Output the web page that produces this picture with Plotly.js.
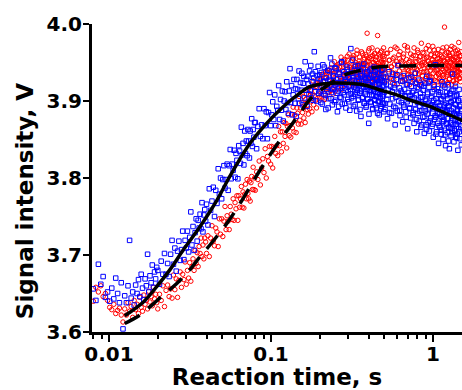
<!DOCTYPE html>
<html>
<head>
<meta charset="utf-8">
<script src="https://cdn.plot.ly/plotly-3.0.1.min.js"></script>
<style>html,body{margin:0;padding:0;background:#fff;}#chart{width:462px;height:390px;}</style>
</head>
<body>
<div id="chart"></div>
<script>
// Reaction time samples (s), shared by both measured series
const reactionTime = [
0.0080,0.0083,0.0086,0.0089,0.0092,0.0095,0.0098,0.0101,0.0104,0.0107,0.0110,0.0113,0.0116,0.0119,
0.0122,0.0125,0.0128,0.0131,0.0134,0.0137,0.0140,0.0143,0.0146,0.0149,0.0152,0.0155,0.0158,0.0161,0.0164,0.0167,0.0170,0.0173,0.0176,0.0179,0.0182,0.0185,0.0188,0.0191,0.0194,0.0197,
0.0200,0.0205,0.0210,0.0215,0.0220,0.0225,0.0230,0.0235,0.0240,0.0245,0.0250,0.0255,0.0260,0.0265,0.0270,0.0275,0.0280,0.0285,0.0290,0.0295,0.0300,0.0305,0.0310,0.0315,0.0320,0.0325,0.0330,0.0335,0.0340,0.0345,0.0350,0.0355,0.0360,0.0365,0.0370,0.0375,0.0380,0.0385,0.0390,0.0395,
0.0400,0.0408,0.0416,0.0424,0.0432,0.0440,0.0448,0.0456,0.0464,0.0472,0.0480,0.0488,0.0496,0.0504,0.0512,0.0520,0.0528,0.0536,0.0544,0.0552,0.0560,0.0568,0.0576,0.0584,0.0592,0.0600,0.0608,0.0616,0.0624,0.0632,0.0640,0.0648,0.0656,0.0664,0.0672,0.0680,0.0688,0.0696,0.0704,0.0712,0.0720,0.0728,0.0736,0.0744,0.0752,0.0760,0.0768,0.0776,0.0784,0.0792,
0.0800,0.0815,0.0830,0.0845,0.0860,0.0875,0.0890,0.0905,0.0920,0.0935,0.0950,0.0965,0.0980,0.0995,0.1010,0.1025,0.1040,0.1055,0.1070,0.1085,0.1100,0.1115,0.1130,0.1145,0.1160,0.1175,0.1190,0.1205,0.1220,0.1235,0.1250,0.1265,0.1280,0.1295,0.1310,0.1325,0.1340,0.1355,0.1370,0.1385,0.1400,0.1415,0.1430,0.1445,0.1460,0.1475,0.1490,0.1505,0.1520,0.1535,0.1550,0.1565,0.1580,0.1595,0.1610,0.1625,0.1640,0.1655,0.1670,0.1685,0.1700,0.1715,0.1730,0.1745,0.1760,0.1775,0.1790,0.1805,0.1820,0.1835,0.1850,0.1865,0.1880,0.1895,0.1910,0.1925,0.1940,0.1955,0.1970,0.1985,
0.200,0.203,0.206,0.209,0.212,0.215,0.218,0.221,0.224,0.227,0.230,0.233,0.236,0.239,0.242,0.245,0.248,0.251,0.254,0.257,0.260,0.263,0.266,0.269,0.272,0.275,0.278,0.281,0.284,0.287,0.290,0.293,0.296,0.299,0.302,0.305,0.308,0.311,0.314,0.317,0.320,0.323,0.326,0.329,0.332,0.335,0.338,0.341,0.344,0.347,0.350,0.353,0.356,0.359,0.362,0.365,0.368,0.371,0.374,0.377,0.380,0.383,0.386,0.389,0.392,0.395,0.398,0.401,0.404,0.407,0.410,0.413,0.416,0.419,0.422,0.425,0.428,0.431,0.434,0.437,0.440,0.443,0.446,0.449,0.452,0.455,0.458,0.461,0.464,0.467,0.470,0.473,0.476,0.479,0.482,0.485,0.488,0.491,0.494,0.497,
0.500,0.506,0.512,0.518,0.524,0.530,0.536,0.542,0.548,0.554,0.560,0.566,0.572,0.578,0.584,0.590,0.596,0.602,0.608,0.614,0.620,0.626,0.632,0.638,0.644,0.650,0.656,0.662,0.668,0.674,0.680,0.686,0.692,0.698,0.704,0.710,0.716,0.722,0.728,0.734,0.740,0.746,0.752,0.758,0.764,0.770,0.776,0.782,0.788,0.794,0.800,0.806,0.812,0.818,0.824,0.830,0.836,0.842,0.848,0.854,0.860,0.866,0.872,0.878,0.884,0.890,0.896,0.902,0.908,0.914,0.920,0.926,0.932,0.938,0.944,0.950,0.956,0.962,0.968,0.974,0.980,0.986,0.992,0.998,1.004,1.010,1.016,1.022,1.028,1.034,1.040,1.046,1.052,1.058,1.064,1.070,1.076,1.082,1.088,1.094,1.100,1.106,1.112,1.118,1.124,1.130,1.136,1.142,1.148,1.154,1.160,1.166,1.172,1.178,1.184,1.190,1.196,1.202,1.208,1.214,1.220,1.226,1.232,1.238,1.244,1.250,1.256,1.262,1.268,1.274,1.280,1.286,1.292,1.298,1.304,1.310,1.316,1.322,1.328,1.334,1.340,1.346,1.352,1.358,1.364,1.370,1.376,1.382,1.388,1.394,1.400,1.406,1.412,1.418,1.424,1.430,1.436,1.442,1.448,1.454,1.460,1.466,1.472,1.478,1.484,1.490,1.496,
0.2015,0.2045,0.2075,0.2105,0.2135,0.2165,0.2195,0.2225,0.2255,0.2285,0.2315,0.2345,0.2375,0.2405,0.2435,0.2465,0.2495,0.2525,0.2555,0.2585,0.2615,0.2645,0.2675,0.2705,0.2735,0.2765,0.2795,0.2825,0.2855,0.2885,0.2915,0.2945,0.2975,0.3005,0.3035,0.3065,0.3095,0.3125,0.3155,0.3185,0.3215,0.3245,0.3275,0.3305,0.3335,0.3365,0.3395,0.3425,0.3455,0.3485,0.3515,0.3545,0.3575,0.3605,0.3635,0.3665,0.3695,0.3725,0.3755,0.3785,0.3815,0.3845,0.3875,0.3905,0.3935,0.3965,0.3995,0.4025,0.4055,0.4085,0.4115,0.4145,0.4175,0.4205,0.4235,0.4265,0.4295,0.4325,0.4355,0.4385,0.4415,0.4445,0.4475,0.4505,0.4535,0.4565,0.4595,0.4625,0.4655,0.4685,0.4715,0.4745,0.4775,0.4805,0.4835,0.4865,0.4895,0.4925,0.4955,0.4985,
0.503,0.515,0.527,0.539,0.551,0.563,0.575,0.587,0.599,0.611,0.623,0.635,0.647,0.659,0.671,0.683,0.695,0.707,0.719,0.731,0.743,0.755,0.767,0.779,0.791,0.803,0.815,0.827,0.839,0.851,0.863,0.875,0.887,0.899,0.911,0.923,0.935,0.947,0.959,0.971,0.983,0.995,1.007,1.019,1.031,1.043,1.055,1.067,1.079,1.091,1.103,1.115,1.127,1.139,1.151,1.163,1.175,1.187,1.199,1.211,1.223,1.235,1.247,1.259,1.271,1.283,1.295,1.307,1.319,1.331,1.343,1.355,1.367,1.379,1.391,1.403,1.415,1.427,1.439,1.451,1.463,1.475,1.487,1.499
];

// Blue series (open squares), signal in V
const blueSignal = [
3.656,3.641,3.688,3.662,3.672,3.645,3.652,3.640,3.657,3.643,3.670,3.650,3.638,3.664,
3.604,3.647,3.638,3.660,3.719,3.644,3.652,3.635,3.661,3.650,3.668,3.646,3.675,3.657,3.642,3.669,3.660,3.701,3.652,3.673,3.664,3.687,3.658,3.678,3.669,3.684,
3.680,3.662,3.692,3.675,3.702,3.675,3.689,3.672,3.701,3.719,3.688,3.709,3.679,3.705,3.718,3.693,3.707,3.731,3.694,3.719,3.709,3.731,3.704,3.723,3.756,3.713,3.737,3.706,3.729,3.747,3.718,3.745,3.735,3.753,3.734,3.768,3.730,3.752,3.759,3.744,
3.766,3.739,3.786,3.758,3.770,3.788,3.750,3.784,3.767,3.812,3.779,3.800,3.773,3.798,3.816,3.787,3.798,3.818,3.784,3.816,3.837,3.799,3.818,3.810,3.836,3.801,3.832,3.823,3.799,3.842,3.835,3.819,3.866,3.830,3.845,3.817,3.861,3.832,3.848,3.829,3.863,3.848,3.826,3.861,3.845,3.877,3.841,3.863,3.853,3.872,
3.872,3.838,3.867,3.890,3.854,3.869,3.851,3.890,3.868,3.886,3.851,3.885,3.911,3.868,3.882,3.899,3.876,3.908,3.868,3.893,3.888,3.920,3.876,3.902,3.888,3.913,3.874,3.900,3.912,3.889,3.925,3.898,3.884,3.913,3.942,3.898,3.920,3.882,3.908,3.928,3.897,3.916,3.880,3.928,3.915,3.903,3.939,3.897,3.924,3.914,3.936,3.895,3.923,3.932,3.904,3.951,3.914,3.928,3.893,3.932,3.922,3.909,3.939,3.914,3.946,3.904,3.925,3.935,3.901,3.930,3.964,3.912,3.938,3.918,3.900,3.933,3.924,3.945,3.910,3.929,
3.934,3.898,3.921,3.947,3.909,3.926,3.889,3.915,3.940,3.903,3.928,3.956,3.911,3.895,3.932,3.917,3.943,3.901,3.924,3.886,3.913,3.937,3.905,3.929,3.950,3.896,3.919,3.934,3.908,3.925,3.891,3.922,3.941,3.912,3.899,3.930,3.915,3.968,3.904,3.927,3.936,3.893,3.918,3.909,3.945,3.921,3.887,3.914,3.931,3.902,3.925,3.910,3.939,3.880,3.916,3.933,3.905,3.922,3.948,3.897,3.912,3.929,3.892,3.919,3.936,3.903,3.924,3.871,3.914,3.931,3.899,3.918,3.942,3.908,3.925,3.889,3.913,3.934,3.902,3.921,3.938,3.895,3.916,3.906,3.929,3.884,3.911,3.935,3.900,3.922,3.909,3.927,3.890,3.914,3.940,3.898,3.919,3.906,3.932,3.886,
3.924,3.889,3.931,3.902,3.877,3.915,3.938,3.896,3.919,3.884,3.912,3.935,3.893,3.921,3.869,3.905,3.928,3.887,3.946,3.900,3.917,3.881,3.926,3.898,3.910,3.873,3.933,3.892,3.915,3.906,3.886,3.922,3.899,3.864,3.911,3.930,3.891,3.907,3.878,3.919,3.903,3.925,3.882,3.913,3.871,3.896,3.936,3.889,3.908,3.860,3.918,3.884,3.901,3.927,3.874,3.893,3.910,3.866,3.921,3.888,3.905,3.879,3.914,3.896,3.858,3.923,3.887,3.900,3.869,3.932,3.883,3.909,3.872,3.897,3.918,3.861,3.891,3.926,3.878,3.904,3.895,3.867,3.912,3.884,3.853,3.901,3.921,3.876,3.893,3.947,3.879,3.903,3.860,3.890,3.916,3.871,3.898,3.845,3.908,3.883,3.894,3.866,3.911,3.880,3.857,3.902,3.925,3.873,3.889,3.850,3.906,3.876,3.893,3.862,3.918,3.885,3.842,3.897,3.870,3.911,3.888,3.859,3.903,3.877,3.921,3.866,3.894,3.838,3.884,3.909,3.872,3.898,3.855,3.887,3.913,3.864,3.880,3.935,3.869,3.901,3.891,3.847,3.884,3.906,3.861,3.875,3.919,3.853,3.895,3.870,3.882,3.908,3.857,3.889,3.836,3.873,3.900,3.864,3.915,3.878,3.893,3.851,3.880,3.903,3.866,3.887,3.843,
3.912,3.937,3.896,3.925,3.944,3.907,3.930,3.918,3.891,3.939,3.926,3.903,3.948,3.915,3.933,3.899,3.921,3.942,3.910,3.929,3.893,3.935,3.917,3.904,3.951,3.923,3.911,3.938,3.897,3.927,3.914,3.944,3.902,3.931,3.919,3.888,3.936,3.909,3.926,3.953,3.906,3.923,3.940,3.895,3.917,3.932,3.911,3.946,3.901,3.928,3.920,3.889,3.935,3.913,3.926,3.904,3.943,3.918,3.897,3.931,3.909,3.927,3.894,3.938,3.915,3.902,3.929,3.883,3.921,3.940,3.912,3.898,3.933,3.919,3.890,3.926,3.907,3.944,3.915,3.901,3.928,3.906,3.891,3.921,3.937,3.911,3.899,3.925,3.882,3.917,3.904,3.930,3.913,3.893,3.927,3.908,3.941,3.896,3.920,3.911,
3.897,3.922,3.908,3.885,3.929,3.903,3.917,3.891,3.934,3.910,3.888,3.913,3.926,3.895,3.907,3.879,3.921,3.902,3.890,3.931,3.911,3.885,3.904,3.923,3.876,3.898,3.916,3.887,3.905,3.869,3.897,3.919,3.880,3.902,3.863,3.911,3.889,3.925,3.874,3.894,3.906,3.870,3.892,3.915,3.881,3.857,3.898,3.884,3.912,3.868,3.889,3.903,3.862,3.879,3.920,3.874,3.895,3.856,3.886,3.907,3.871,3.893,3.848,3.884,3.910,3.865,3.899,3.877,3.859,3.915,3.883,3.862,3.896,3.870,3.907,3.852,3.887,3.874,3.901,3.860,3.881,3.895,3.868,3.889
];

// Red series (open circles), signal in V
const redSignal = [
3.640,3.658,3.652,3.660,3.646,3.650,3.641,3.632,3.629,3.636,3.624,3.628,3.631,3.622,
3.613,3.630,3.622,3.638,3.627,3.633,3.619,3.641,3.629,3.636,3.624,3.645,3.632,3.627,3.648,3.636,3.641,3.630,3.653,3.639,3.646,3.634,3.658,3.643,3.649,3.638,
3.630,3.649,3.641,3.660,3.633,3.654,3.661,3.646,3.656,3.644,3.674,3.655,3.669,3.645,3.667,3.678,3.658,3.675,3.668,3.691,3.662,3.680,3.670,3.690,3.666,3.685,3.695,3.680,3.706,3.689,3.703,3.685,3.711,3.702,3.722,3.698,3.713,3.695,3.722,3.717,
3.702,3.725,3.698,3.722,3.738,3.718,3.712,3.735,3.730,3.711,3.747,3.727,3.747,3.724,3.744,3.763,3.733,3.751,3.744,3.733,3.763,3.753,3.746,3.773,3.745,3.768,3.760,3.777,3.745,3.777,3.762,3.773,3.789,3.762,3.782,3.761,3.779,3.792,3.773,3.798,3.780,3.773,3.796,3.770,3.794,3.802,3.785,3.814,3.785,3.800,
3.784,3.808,3.798,3.822,3.791,3.813,3.825,3.807,3.838,3.800,3.828,3.822,3.841,3.818,3.841,3.813,3.839,3.854,3.832,3.842,3.829,3.867,3.842,3.860,3.834,3.860,3.845,3.872,3.854,3.871,3.839,3.867,3.882,3.855,3.868,3.853,3.883,3.865,3.892,3.860,3.882,3.875,3.859,3.891,3.884,3.870,3.906,3.875,3.891,3.870,3.898,3.885,3.906,3.878,3.892,3.872,3.902,3.909,3.889,3.899,3.883,3.917,3.890,3.907,3.899,3.914,3.886,3.909,3.926,3.895,3.907,3.921,3.901,3.919,3.891,3.917,3.928,3.908,3.922,3.901,
3.905,3.928,3.913,3.934,3.919,3.902,3.930,3.921,3.937,3.912,3.931,3.914,3.940,3.925,3.909,3.936,3.920,3.945,3.928,3.917,3.941,3.923,3.949,3.930,3.915,3.939,3.927,3.953,3.935,3.921,3.946,3.929,3.958,3.933,3.919,3.944,3.936,3.951,3.925,3.942,3.932,3.955,3.938,3.921,3.947,3.934,3.961,3.929,3.943,3.937,3.952,3.926,3.945,3.938,3.964,3.931,3.948,3.922,3.941,3.956,3.936,3.949,3.929,3.958,3.988,3.925,3.951,3.939,3.968,3.933,3.947,3.930,3.955,3.941,3.924,3.959,3.937,3.950,3.928,3.962,3.940,3.953,3.927,3.946,3.935,3.985,3.931,3.949,3.921,3.944,3.957,3.934,3.950,3.939,3.965,3.926,3.948,3.942,3.931,3.955,
3.958,3.935,3.949,3.926,3.962,3.941,3.953,3.930,3.967,3.944,3.937,3.955,3.928,3.948,3.970,3.933,3.951,3.922,3.946,3.960,3.939,3.964,3.931,3.952,3.943,3.925,3.957,3.936,3.972,3.947,3.929,3.954,3.941,3.966,3.934,3.950,3.921,3.945,3.961,3.938,3.956,3.932,3.948,3.927,3.969,3.943,3.936,3.959,3.924,3.951,3.940,3.963,3.930,3.953,3.945,3.920,3.958,3.937,3.975,3.946,3.933,3.950,3.926,3.962,3.942,3.955,3.929,3.948,3.968,3.938,3.957,3.935,3.952,3.923,3.944,3.966,3.931,3.949,3.940,3.960,3.927,3.953,3.943,3.971,3.936,3.950,3.919,3.958,3.939,3.946,3.962,3.932,3.948,3.925,3.955,3.941,3.967,3.934,3.951,3.929,3.944,3.960,3.937,3.953,3.922,3.947,3.965,3.933,3.956,3.940,3.930,3.952,3.945,3.996,3.938,3.961,3.927,3.949,3.942,3.970,3.935,3.954,3.924,3.946,3.963,3.939,3.951,3.929,3.958,3.943,3.967,3.936,3.950,3.921,3.955,3.941,3.932,3.962,3.947,3.926,3.953,3.940,3.969,3.934,3.948,3.957,3.923,3.945,3.961,3.937,3.928,3.951,3.943,3.966,3.933,3.954,3.939,3.976,3.946,3.930,3.958,3.936,3.949,3.925,3.964,3.942,3.953,
3.926,3.908,3.935,3.915,3.930,3.904,3.938,3.919,3.911,3.940,3.922,3.943,3.916,3.934,3.926,3.951,3.913,3.939,3.929,3.947,3.924,3.944,3.932,3.957,3.919,3.940,3.948,3.928,3.954,3.936,3.947,3.926,3.953,3.935,3.961,3.929,3.944,3.938,3.922,3.956,3.936,3.959,3.945,3.927,3.950,3.940,3.966,3.931,3.948,3.943,3.957,3.934,3.949,3.941,3.925,3.962,3.946,3.937,3.954,3.929,3.942,3.960,3.933,3.951,3.946,3.928,3.965,3.938,3.956,3.944,3.935,3.958,3.941,3.969,3.930,3.950,3.944,3.923,3.961,3.947,3.953,3.932,3.957,3.940,3.966,3.927,3.949,3.943,3.960,3.936,3.944,3.963,3.930,3.952,3.938,3.958,3.926,3.950,3.969,3.941,
3.941,3.962,3.930,3.953,3.945,3.923,3.957,3.936,3.968,3.948,3.955,3.932,3.949,3.961,3.927,3.944,3.970,3.939,3.952,3.934,3.946,3.959,3.928,3.951,3.942,3.966,3.935,3.957,3.924,3.948,3.963,3.938,3.950,3.929,3.956,3.943,3.972,3.933,3.947,3.960,3.931,3.954,3.945,3.966,3.926,3.950,3.940,3.961,3.936,3.955,3.948,3.927,3.958,3.942,3.969,3.934,3.952,3.921,3.946,3.963,3.937,3.956,3.944,3.928,3.960,3.949,3.935,3.971,3.943,3.954,3.926,3.951,3.940,3.965,3.932,3.957,3.946,3.938,3.962,3.929,3.950,3.941,3.959,3.934
];

// Fitted curves
const fitTimeSolid = [0.0125,0.0163,0.0197,0.0238,0.0287,0.0365,0.0463,0.0546,0.0585,0.0742,0.094,0.1189,0.14,0.174,0.231,0.30,0.371,0.46,0.596,0.75,0.955,1.2,1.5,1.6];
const fitSolid = [3.621,3.639,3.659,3.681,3.7065,3.737,3.771,3.799,3.810,3.845,3.871,3.8926,3.905,3.9186,3.923,3.923,3.921,3.915,3.908,3.900,3.893,3.884,3.875,3.872];
const fitTimeDashed = [0.0125,0.0155,0.0184,0.0216,0.0262,0.0316,0.0365,0.042,0.0542,0.0644,0.0855,0.1137,0.151,0.166,0.19,0.23,0.2855,0.36,0.47,0.6,1.0,1.6];
const fitDashed = [3.611,3.622,3.635,3.648,3.663,3.681,3.698,3.713,3.743,3.767,3.810,3.849,3.884,3.897,3.910,3.922,3.934,3.940,3.9446,3.9455,3.946,3.946];

// Axis ticks
const xTickVals = [0.01, 0.1, 1];
const xTickText = ['0.01', '0.1', '1'];
const xMinorVals = [0.008,0.009,0.02,0.03,0.04,0.05,0.06,0.07,0.08,0.09,0.2,0.3,0.4,0.5,0.6,0.7,0.8,0.9];
const yTickVals = [3.6, 3.7, 3.8, 3.9, 4.0];
const yTickText = ['3.6', '3.7', '3.8', '3.9', '4.0'];

const FONT = 'DejaVu Sans, Liberation Sans, Arial, sans-serif';

const traces = [
  {x: reactionTime, y: redSignal, type: 'scatter', mode: 'markers',
   marker: {symbol: 'circle-open', size: 4.5, color: '#ff0000', line: {width: 1, color: '#ff0000'}}},
  {x: reactionTime, y: blueSignal, type: 'scatter', mode: 'markers',
   marker: {symbol: 'square-open', size: 4.5, color: '#0000ff', line: {width: 1, color: '#0000ff'}}},
  {x: fitTimeSolid, y: fitSolid, type: 'scatter', mode: 'lines',
   line: {color: '#000', width: 3.5, shape: 'spline'}},
  {x: fitTimeDashed, y: fitDashed, type: 'scatter', mode: 'lines',
   line: {color: '#000', width: 3.5, shape: 'spline', dash: '17px,11px'}}
];

const layout = {
  width: 462, height: 390,
  margin: {l: 92, r: 0, t: 24, b: 58},
  paper_bgcolor: '#fff', plot_bgcolor: '#fff',
  showlegend: false, hovermode: false,
  font: {family: FONT, size: 20, color: '#000', weight: 'bold'},
  xaxis: {
    type: 'log', range: [-2.105, 0.179],
    tickmode: 'array', tickvals: xTickVals, ticktext: xTickText,
    ticks: 'outside', ticklen: 7, tickwidth: 2.5, tickcolor: '#000',
    ticklabelstandoff: -5,
    tickfont: {family: FONT, size: 20, color: '#000', weight: 'bold'},
    minor: {tickmode: 'array', tickvals: xMinorVals, ticks: 'outside', ticklen: 4, tickwidth: 2, tickcolor: '#000', showgrid: false},
    showline: true, linewidth: 3, linecolor: '#000',
    showgrid: false, zeroline: false,
    title: {text: 'Reaction time, s', font: {family: FONT, size: 23, color: '#000', weight: 'bold'}, standoff: 7}
  },
  yaxis: {
    range: [3.6, 4.0],
    tickmode: 'array', tickvals: yTickVals, ticktext: yTickText,
    ticks: 'outside', ticklen: 6, tickwidth: 2.5, tickcolor: '#000',
    ticklabelstandoff: -3,
    tickfont: {family: FONT, size: 20, color: '#000', weight: 'bold'},
    showline: true, linewidth: 3, linecolor: '#000',
    showgrid: false, zeroline: false
  },
  annotations: [{
    text: 'Signal intensity, V', textangle: -90,
    xref: 'paper', yref: 'paper', x: -0.181, y: 0.425,
    xanchor: 'center', yanchor: 'middle', showarrow: false,
    font: {family: FONT, size: 23, color: '#000', weight: 'bold'}
  }]
};

Plotly.newPlot('chart', traces, layout, {displayModeBar: false, staticPlot: true});
</script>
</body>
</html>
